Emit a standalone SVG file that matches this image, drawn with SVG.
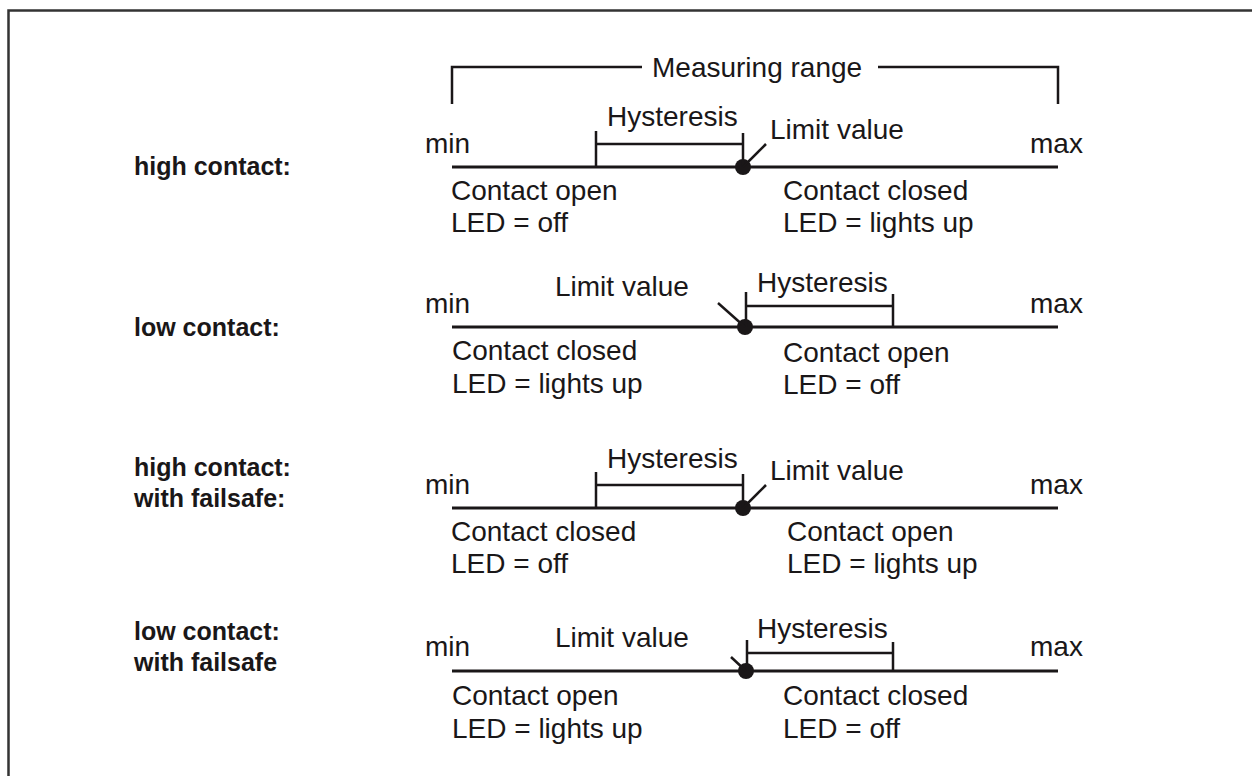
<svg xmlns="http://www.w3.org/2000/svg" width="1252" height="776" viewBox="0 0 1252 776">
<style>
  .t{font-family:"Liberation Sans",Arial,sans-serif;font-size:28px;fill:#1a1718}
  .b{font-family:"Liberation Sans",Arial,sans-serif;font-size:25px;font-weight:bold;fill:#1a1718}
  .ln{stroke:#1a1718;stroke-width:2.5;fill:none}
  .ax{stroke:#1a1718;stroke-width:3;fill:none}
  .dot{fill:#1a1718}
</style>
<rect width="1252" height="776" fill="#fff"/>
<path d="M8.5,776 V10.5 H1252" fill="none" stroke="#333" stroke-width="2.5"/>

<g id="measuring-range">
  <path class="ln" d="M452,104 V67 H642 M878,67 H1058 V104"/>
  <text class="t" x="652" y="77">Measuring range</text>
</g>

<g id="row1-high-contact">
  <text class="b" x="134" y="175">high contact:</text>
  <text class="t" x="425" y="153">min</text>
  <text class="t" x="1030" y="153">max</text>
  <line class="ax" x1="452" y1="167" x2="1058" y2="167"/>
  <text class="t" x="607" y="126">Hysteresis</text>
  <text class="t" x="770" y="139">Limit value</text>
  <circle class="dot" cx="743" cy="167" r="8"/>
  <text class="t" x="451" y="200">Contact open</text>
  <text class="t" x="451" y="232">LED = off</text>
  <text class="t" x="783" y="200">Contact closed</text>
  <text class="t" x="783" y="232">LED = lights up</text>
</g>

<g id="row2-low-contact">
  <text class="b" x="134" y="336">low contact:</text>
  <text class="t" x="425" y="313">min</text>
  <text class="t" x="1030" y="313">max</text>
  <line class="ax" x1="452" y1="327" x2="1058" y2="327"/>
  <text class="t" x="757" y="292">Hysteresis</text>
  <text class="t" x="555" y="296">Limit value</text>
  <circle class="dot" cx="745" cy="327" r="8"/>
  <text class="t" x="452" y="360">Contact closed</text>
  <text class="t" x="452" y="393">LED = lights up</text>
  <text class="t" x="783" y="362">Contact open</text>
  <text class="t" x="783" y="394">LED = off</text>
</g>

<g id="row3-high-failsafe">
  <text class="b" x="134" y="476">high contact:</text>
  <text class="b" x="134" y="507">with failsafe:</text>
  <text class="t" x="425" y="494">min</text>
  <text class="t" x="1030" y="494">max</text>
  <line class="ax" x1="452" y1="508" x2="1058" y2="508"/>
  <text class="t" x="607" y="468">Hysteresis</text>
  <text class="t" x="770" y="480">Limit value</text>
  <circle class="dot" cx="743" cy="508" r="8"/>
  <text class="t" x="451" y="541">Contact closed</text>
  <text class="t" x="451" y="573">LED = off</text>
  <text class="t" x="787" y="541">Contact open</text>
  <text class="t" x="787" y="573">LED = lights up</text>
</g>

<g id="row4-low-failsafe">
  <text class="b" x="134" y="640">low contact:</text>
  <text class="b" x="134" y="671">with failsafe</text>
  <text class="t" x="425" y="656">min</text>
  <text class="t" x="1030" y="656">max</text>
  <line class="ax" x1="452" y1="671" x2="1058" y2="671"/>
  <text class="t" x="757" y="638">Hysteresis</text>
  <text class="t" x="555" y="647">Limit value</text>
  <circle class="dot" cx="746" cy="671" r="8"/>
  <text class="t" x="452" y="705">Contact open</text>
  <text class="t" x="452" y="738">LED = lights up</text>
  <text class="t" x="783" y="705">Contact closed</text>
  <text class="t" x="783" y="738">LED = off</text>
</g>

<g id="connectors">
  <path class="ln" d="M596,131 V167 M596,144 H743 M743,133 V167"/>
  <line class="ln" x1="743" y1="167" x2="766" y2="144"/>
  <path class="ln" d="M746,292 V327 M746,306 H893 M893,294 V327"/>
  <line class="ln" x1="745" y1="327" x2="718" y2="303"/>
  <path class="ln" d="M596,472 V508 M596,485 H743 M743,474 V508"/>
  <line class="ln" x1="743" y1="508" x2="766" y2="485"/>
  <path class="ln" d="M747,640 V671 M747,653 H893 M893,642 V671"/>
  <line class="ln" x1="746" y1="671" x2="731" y2="657"/>
</g>
</svg>
